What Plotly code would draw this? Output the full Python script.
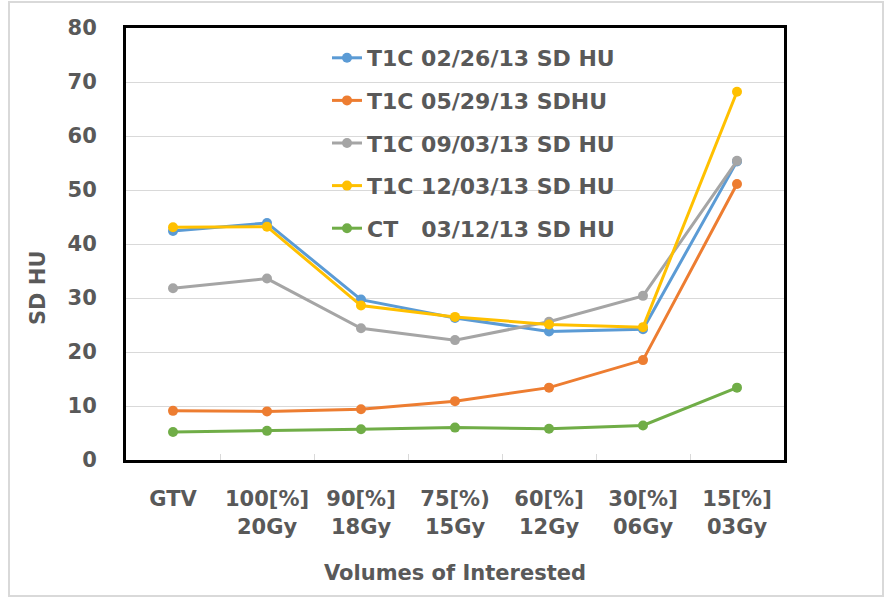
import plotly.graph_objects as go

categories = ["GTV", "100[%]<br>20Gy", "90[%]<br>18Gy", "75[%)<br>15Gy",
              "60[%]<br>12Gy", "30[%]<br>06Gy", "15[%]<br>03Gy"]

t1c_0226 = [42.4, 43.9, 29.7, 26.3, 23.8, 24.2, 55.3]
t1c_0529 = [9.1, 9.0, 9.4, 10.9, 13.4, 18.5, 51.1]
t1c_0903 = [31.8, 33.6, 24.4, 22.2, 25.6, 30.4, 55.4]
t1c_1203 = [43.1, 43.2, 28.6, 26.5, 25.1, 24.6, 68.2]
ct_0312 = [5.2, 5.4, 5.7, 6.0, 5.8, 6.4, 13.4]

y_ticks = [0, 10, 20, 30, 40, 50, 60, 70, 80]

series = [
    ("T1C 02/26/13 SD HU", t1c_0226, "#5B9BD5"),
    ("T1C 05/29/13 SDHU", t1c_0529, "#ED7D31"),
    ("T1C 09/03/13 SD HU", t1c_0903, "#A5A5A5"),
    ("T1C 12/03/13 SD HU", t1c_1203, "#FFC000"),
    ("CT   03/12/13 SD HU", ct_0312, "#70AD47"),
]

FONT = "DejaVu Sans"
GREY = "#595959"

fig = go.Figure()
for i, (name, vals, col) in enumerate(series):
    fig.add_trace(go.Scatter(
        x=categories, y=vals, name=name.replace(" ", "\u00a0"),
        mode="lines+markers", legendgroup=f"g{i}",
        line=dict(color=col, width=3),
        marker=dict(color=col, size=10),
    ))

L, R, T, B = 126, 109, 28, 141
W, H = 893, 601
pw, ph = W - L - R, H - T - B

def px(x):
    return (x - L) / pw

def py(y):
    return (H - B - y) / ph

fig.update_layout(
    width=W, height=H,
    margin=dict(l=L, r=R, t=T, b=B),
    paper_bgcolor="white", plot_bgcolor="white",
    font=dict(family=FONT, size=21, color=GREY, weight="bold"),
    showlegend=True,
    legend=dict(
        x=px(327), y=py(37), xanchor="left", yanchor="top",
        bgcolor="rgba(0,0,0,0)", borderwidth=0,
        font=dict(family=FONT, size=22, color=GREY, weight="bold"),
        traceorder="grouped", tracegroupgap=11,
        itemwidth=30,
    ),
    xaxis=dict(
        type="category", range=[-0.5, 6.5],
        showline=True, linecolor="black", linewidth=3, mirror=True,
        showgrid=False, ticks="inside", tickson="boundaries",
        ticklen=6, tickcolor="#D9D9D9", tickwidth=1,
        ticklabelstandoff=18,
        tickfont=dict(family=FONT, size=21, color=GREY, weight="bold"),
    ),
    yaxis=dict(
        range=[0, 80], tickvals=y_ticks,
        showline=True, linecolor="black", linewidth=3, mirror=True,
        showgrid=True, gridcolor="#D9D9D9", gridwidth=1,
        zeroline=False, ticks="", ticklabelstandoff=22,
        tickfont=dict(family=FONT, size=21, color=GREY, weight="bold"),
    ),
    shapes=[dict(
        type="rect", xref="paper", yref="paper",
        x0=px(9), x1=px(883), y0=py(596), y1=py(2),
        line=dict(color="#D9D9D9", width=2), fillcolor="rgba(0,0,0,0)",
        layer="below",
    )],
    annotations=[
        dict(text="SD HU", xref="paper", yref="paper", x=px(38), y=py(288),
             textangle=-90, showarrow=False, xanchor="center", yanchor="middle",
             font=dict(family=FONT, size=21, color=GREY, weight="bold")),
        dict(text="Volumes of Interested", xref="paper", yref="paper",
             x=px(455), y=py(573), showarrow=False, xanchor="center", yanchor="middle",
             font=dict(family=FONT, size=21, color=GREY, weight="bold")),
    ],
)

fig.write_html("out.html")
